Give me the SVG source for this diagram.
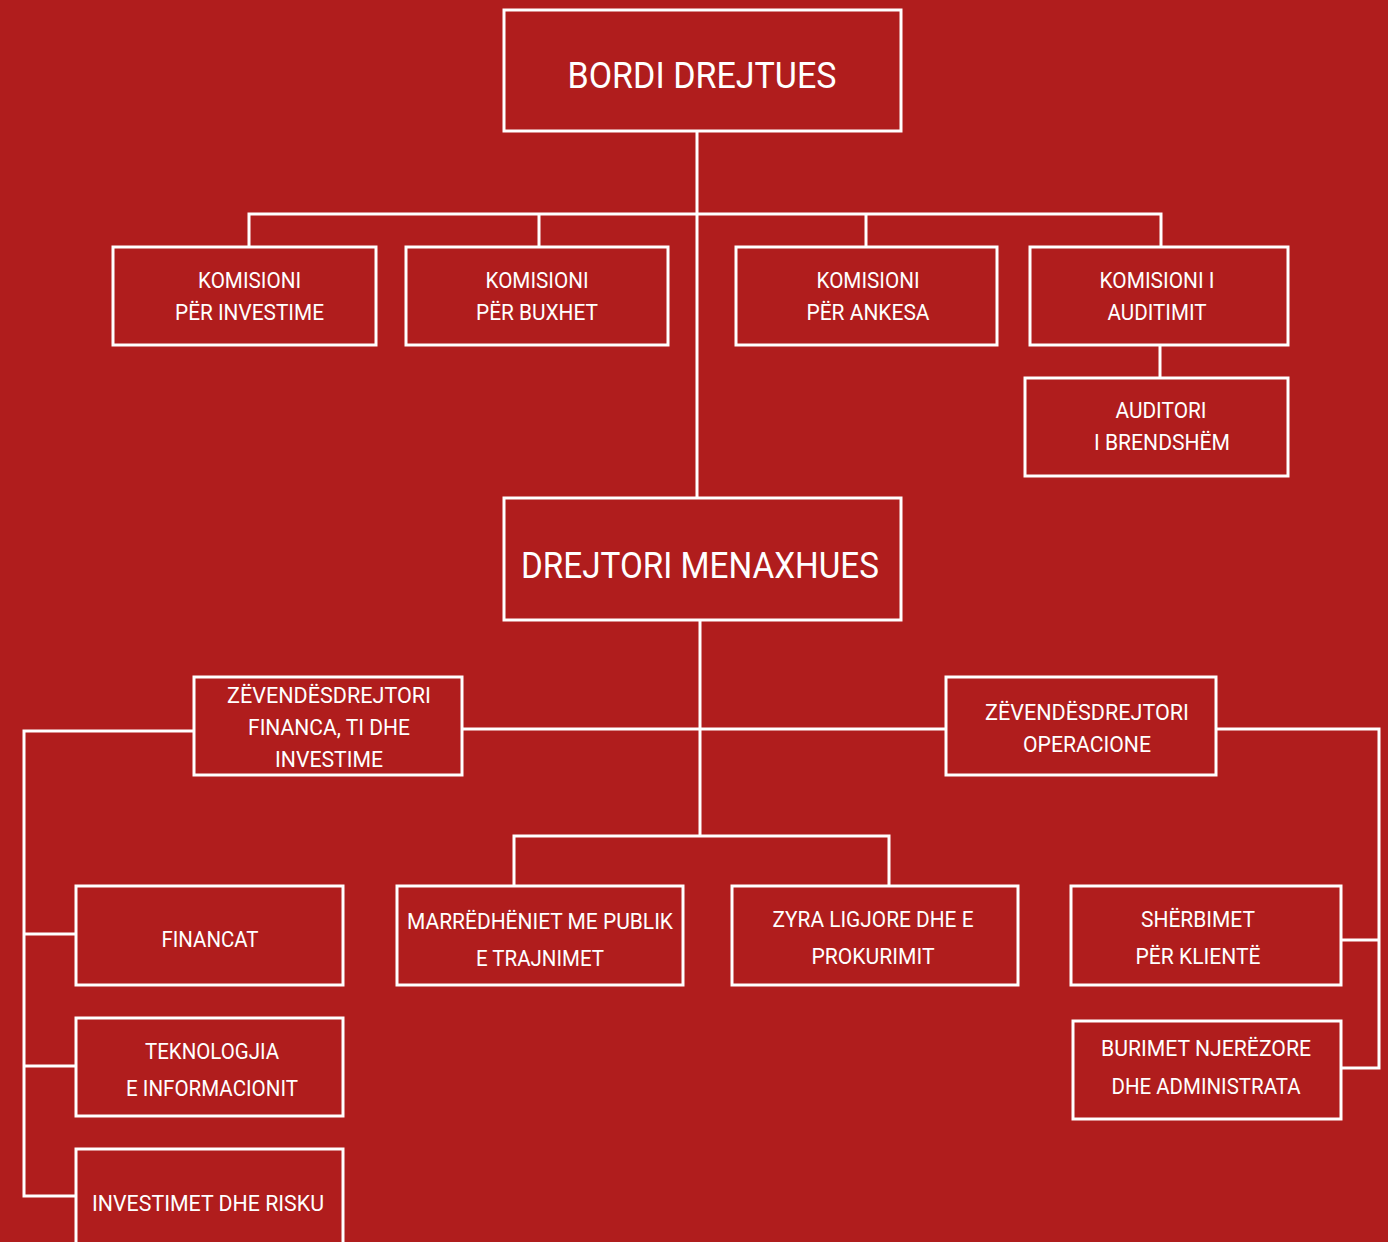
<svg xmlns="http://www.w3.org/2000/svg" width="1388" height="1242" viewBox="0 0 1388 1242">
<style>
.bg{fill:#B01D1D}
.box{fill:#B01D1D;stroke:#FFFFFF;stroke-width:3}
.ln{fill:none;stroke:#FFFFFF;stroke-width:3}
text{fill:#FFFFFF;font-family:Roboto,"Liberation Sans",sans-serif;text-anchor:middle}
.s{font-size:22px}
.b{font-size:36px}
</style>
<rect class="bg" x="0" y="0" width="1388" height="1242"/>
<g id="connectors">
<path class="ln" d="M697 131 V498"/>
<path class="ln" d="M249 247 V214 H1161 V247"/>
<path class="ln" d="M539 214 V247"/>
<path class="ln" d="M866 214 V247"/>
<path class="ln" d="M1160 345 V378"/>
<path class="ln" d="M700 620 V836"/>
<path class="ln" d="M462 729 H946"/>
<path class="ln" d="M514 886 V836 H889 V886"/>
<path class="ln" d="M194 731 H24 V1196 H76"/>
<path class="ln" d="M24 934 H76"/>
<path class="ln" d="M24 1066 H76"/>
<path class="ln" d="M1216 729 H1379 V1068 H1341"/>
<path class="ln" d="M1379 940 H1341"/>
</g>
<g id="bordi">
<rect class="box" x="504" y="10" width="397" height="121"/>
<text class="b" x="702" y="88" textLength="269" lengthAdjust="spacingAndGlyphs">BORDI DREJTUES</text>
</g>
<g id="kom-investime">
<rect class="box" x="113" y="247" width="263" height="98"/>
<text class="s" x="249.5" y="288" textLength="103" lengthAdjust="spacingAndGlyphs">KOMISIONI</text>
<text class="s" x="249.5" y="320" textLength="149" lengthAdjust="spacingAndGlyphs">PËR INVESTIME</text>
</g>
<g id="kom-buxhet">
<rect class="box" x="406" y="247" width="262" height="98"/>
<text class="s" x="537" y="288" textLength="103" lengthAdjust="spacingAndGlyphs">KOMISIONI</text>
<text class="s" x="537" y="320" textLength="122" lengthAdjust="spacingAndGlyphs">PËR BUXHET</text>
</g>
<g id="kom-ankesa">
<rect class="box" x="736" y="247" width="261" height="98"/>
<text class="s" x="868" y="288" textLength="103" lengthAdjust="spacingAndGlyphs">KOMISIONI</text>
<text class="s" x="868" y="320" textLength="123" lengthAdjust="spacingAndGlyphs">PËR ANKESA</text>
</g>
<g id="kom-auditimit">
<rect class="box" x="1030" y="247" width="258" height="98"/>
<text class="s" x="1157" y="288" textLength="115" lengthAdjust="spacingAndGlyphs">KOMISIONI I</text>
<text class="s" x="1157" y="320" textLength="99" lengthAdjust="spacingAndGlyphs">AUDITIMIT</text>
</g>
<g id="auditori">
<rect class="box" x="1025" y="378" width="263" height="98"/>
<text class="s" x="1161" y="418" textLength="91" lengthAdjust="spacingAndGlyphs">AUDITORI</text>
<text class="s" x="1162" y="450" textLength="136" lengthAdjust="spacingAndGlyphs">I BRENDSHËM</text>
</g>
<g id="drejtori">
<rect class="box" x="504" y="498" width="397" height="122"/>
<text class="b" x="700" y="578" textLength="358" lengthAdjust="spacingAndGlyphs">DREJTORI MENAXHUES</text>
</g>
<g id="zv-financa">
<rect class="box" x="194" y="677" width="268" height="98"/>
<text class="s" x="329" y="703" textLength="204" lengthAdjust="spacingAndGlyphs">ZËVENDËSDREJTORI</text>
<text class="s" x="329" y="735" textLength="162" lengthAdjust="spacingAndGlyphs">FINANCA, TI DHE</text>
<text class="s" x="329" y="767" textLength="108" lengthAdjust="spacingAndGlyphs">INVESTIME</text>
</g>
<g id="zv-operacione">
<rect class="box" x="946" y="677" width="270" height="98"/>
<text class="s" x="1087" y="720" textLength="204" lengthAdjust="spacingAndGlyphs">ZËVENDËSDREJTORI</text>
<text class="s" x="1087" y="752" textLength="128" lengthAdjust="spacingAndGlyphs">OPERACIONE</text>
</g>
<g id="financat">
<rect class="box" x="76" y="886" width="267" height="99"/>
<text class="s" x="210" y="947" textLength="97" lengthAdjust="spacingAndGlyphs">FINANCAT</text>
</g>
<g id="teknologjia">
<rect class="box" x="76" y="1018" width="267" height="98"/>
<text class="s" x="212" y="1059" textLength="134" lengthAdjust="spacingAndGlyphs">TEKNOLOGJIA</text>
<text class="s" x="212" y="1096" textLength="172" lengthAdjust="spacingAndGlyphs">E INFORMACIONIT</text>
</g>
<g id="investimet">
<rect class="box" x="76" y="1149" width="267" height="110"/>
<text class="s" x="208" y="1211" textLength="232" lengthAdjust="spacingAndGlyphs">INVESTIMET DHE RISKU</text>
</g>
<g id="marredheniet">
<rect class="box" x="397" y="886" width="286" height="99"/>
<text class="s" x="540" y="929" textLength="266" lengthAdjust="spacingAndGlyphs">MARRËDHËNIET ME PUBLIK</text>
<text class="s" x="540" y="966" textLength="128" lengthAdjust="spacingAndGlyphs">E TRAJNIMET</text>
</g>
<g id="zyra">
<rect class="box" x="732" y="886" width="286" height="99"/>
<text class="s" x="873" y="927" textLength="201" lengthAdjust="spacingAndGlyphs">ZYRA LIGJORE DHE E</text>
<text class="s" x="873" y="964" textLength="123" lengthAdjust="spacingAndGlyphs">PROKURIMIT</text>
</g>
<g id="sherbimet">
<rect class="box" x="1071" y="886" width="270" height="99"/>
<text class="s" x="1198" y="927" textLength="114" lengthAdjust="spacingAndGlyphs">SHËRBIMET</text>
<text class="s" x="1198" y="964" textLength="125" lengthAdjust="spacingAndGlyphs">PËR KLIENTË</text>
</g>
<g id="burimet">
<rect class="box" x="1073" y="1021" width="268" height="98"/>
<text class="s" x="1206" y="1056" textLength="210" lengthAdjust="spacingAndGlyphs">BURIMET NJERËZORE</text>
<text class="s" x="1206" y="1094" textLength="189" lengthAdjust="spacingAndGlyphs">DHE ADMINISTRATA</text>
</g>
</svg>
